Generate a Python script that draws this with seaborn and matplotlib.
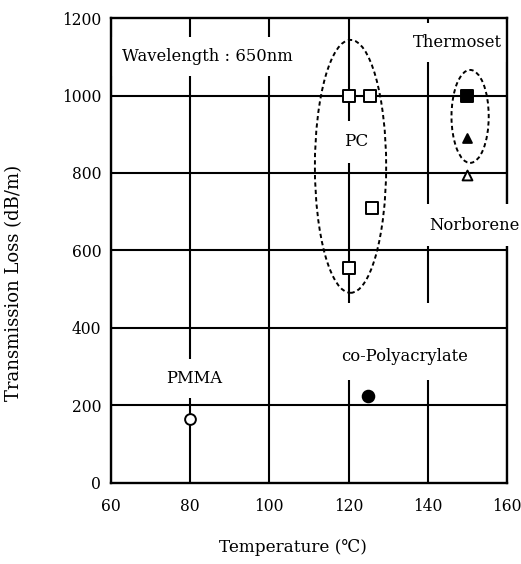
import matplotlib
matplotlib.use("Agg")
import matplotlib.pyplot as plt
from matplotlib.patches import Ellipse, Rectangle
import seaborn as sns
import pandas as pd

# Transmission loss of polymer optical fibres versus heat-resistance temperature
materials = ["PMMA", "co-Polyacrylate", "PC", "PC", "PC", "PC",
             "Thermoset", "Thermoset", "Norborene"]
temperature = [80, 125, 120, 125.5, 126, 120, 150, 150, 150]
loss = [165, 225, 1000, 1000, 710, 555, 1000, 890, 795]
styles = ["open_circle", "filled_circle", "open_square", "open_square",
          "open_square", "open_square", "filled_square", "filled_triangle",
          "open_triangle"]

x_ticks = [60, 80, 100, 120, 140, 160]
y_ticks = [0, 200, 400, 600, 800, 1000, 1200]

df = pd.DataFrame({"material": materials, "temperature": temperature,
                   "loss": loss, "style": styles})

sns.set_style("white", {"text.color": "black", "axes.labelcolor": "black",
                        "xtick.color": "black", "ytick.color": "black"})
plt.rcParams["font.family"] = ["DejaVu Serif", "DejaVu Sans"]
plt.rcParams["font.size"] = 11

fig = plt.figure(figsize=(5.21, 5.64), dpi=100)
ax = fig.add_axes([0.213, 0.144, 0.76, 0.824])

ax.set_xlim(60, 160)
ax.set_ylim(0, 1200)
ax.set_xticks(x_ticks)
ax.set_yticks(y_ticks)
ax.tick_params(axis="both", length=0, labelsize=11.2, labelcolor="black")
ax.tick_params(axis="x", pad=11)
ax.tick_params(axis="y", pad=7)

# vertical grid sits under the label backings, horizontal grid over them
ax.grid(True, axis="x", color="black", linewidth=1.5)
ax.set_axisbelow(True)
for yv in y_ticks[1:-1]:
    ax.axhline(yv, color="black", linewidth=1.5, zorder=2.2)
for s in ax.spines.values():
    s.set_color("black")
    s.set_linewidth(1.7)

marker_spec = {
    "open_circle": dict(marker="o", facecolor="white", s=60),
    "filled_circle": dict(marker="o", facecolor="black", s=70),
    "open_square": dict(marker="s", facecolor="white", s=70),
    "filled_square": dict(marker="s", facecolor="black", s=85),
    "filled_triangle": dict(marker="^", facecolor="black", s=40),
    "open_triangle": dict(marker="^", facecolor="white", s=50),
}
for style, sub in df.groupby("style"):
    spec = marker_spec[style]
    sns.scatterplot(data=sub, x="temperature", y="loss", ax=ax,
                    marker=spec["marker"], s=spec["s"], color=spec["facecolor"],
                    edgecolor="black", linewidth=1.4, zorder=5, legend=False)

# dashed outlines grouping the PC and thermoset samples
dash = (0, (2.2, 1.6))
ax.add_patch(Ellipse((120.5, 817), 18, 653, fill=False, linestyle=dash,
                     linewidth=1.4, edgecolor="black", zorder=4))
ax.add_patch(Ellipse((150.7, 946), 9.4, 240, fill=False, linestyle=dash,
                     linewidth=1.4, edgecolor="black", zorder=4))

def backing(pad):
    return dict(facecolor="white", edgecolor="none", pad=pad)

fs = 11.8
ax.text(62.8, 1100, "Wavelength : 650nm", fontsize=fs, ha="left", va="center",
        bbox=backing(8), zorder=2)
ax.text(147.6, 1137, "Thermoset", fontsize=fs, ha="center", va="center",
        bbox=backing(8), zorder=2)
ax.text(121.8, 880, "PC", fontsize=fs + 0.3, ha="center", va="center",
        bbox=backing(9), zorder=2)
ax.text(151.8, 665, "Norborene", fontsize=fs, ha="center", va="center",
        bbox=backing(9), zorder=3)
ax.text(80.9, 270, "PMMA", fontsize=fs, ha="center", va="center",
        bbox=backing(8), zorder=2)
ax.text(134.1, 325, "co-Polyacrylate", fontsize=fs, ha="center", va="center",
        zorder=2)
# clear the vertical grid behind the co-Polyacrylate label
ax.add_patch(Rectangle((117.3, 265), 33.7, 200, facecolor="white",
                       edgecolor="none", zorder=1.8))

ax.set_xlabel("Temperature (\u2103)", fontsize=12.2)
ax.xaxis.set_label_coords(0.46, -0.122)
ax.set_ylabel("Transmission Loss (dB/m)", fontsize=13)
ax.yaxis.set_label_coords(-0.222, 0.43)

fig.savefig("out.png", dpi=100)
